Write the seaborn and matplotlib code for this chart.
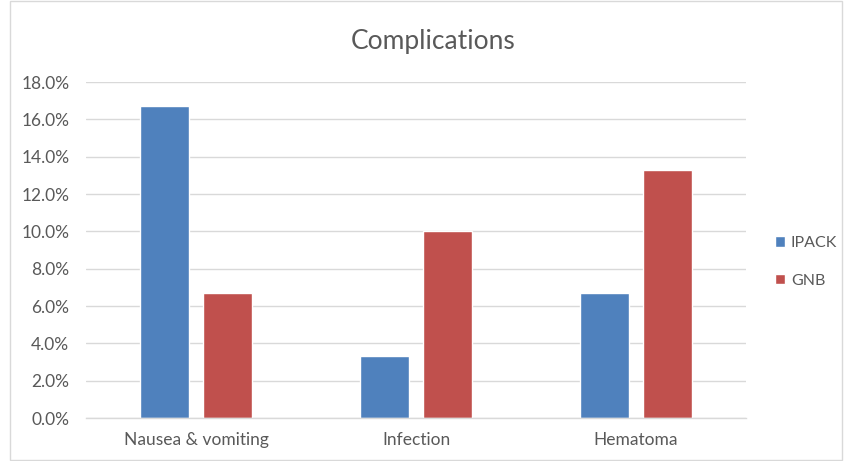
import matplotlib
matplotlib.use("Agg")
import matplotlib.pyplot as plt
from matplotlib.patches import Rectangle
from matplotlib.ticker import PercentFormatter
import seaborn as sns
import pandas as pd

categories = ["Nausea & vomiting", "Infection", "Hematoma"]
groups = ["IPACK", "GNB"]
ipack = [16.7, 3.3, 6.7]
gnb = [6.7, 10.0, 13.3]
colors = ["#4F81BD", "#C0504D"]

df = pd.DataFrame({
    "Complication": categories * 2,
    "Group": [groups[0]] * len(categories) + [groups[1]] * len(categories),
    "Rate": ipack + gnb,
})

sns.set_theme(style="white")
plt.rcParams["font.family"] = ["Lato", "DejaVu Sans"]

fig = plt.figure(figsize=(8.44, 4.61), dpi=100)
ax = fig.add_axes([86 / 844, 1 - 418 / 461, 660 / 844, 336 / 461])

sns.barplot(data=df, x="Complication", y="Rate", hue="Group",
            palette=colors, width=0.573, gap=0.222, ax=ax,
            saturation=1, legend=True)

ax.set_ylim(0, 18)
ax.set_xlim(-0.5, 2.5)
ax.set_yticks(range(0, 19, 2))
ax.yaxis.set_major_formatter(PercentFormatter(decimals=1))
ax.grid(axis="y", color="#D9D9D9", linewidth=1)
ax.set_axisbelow(True)
for s in ["top", "right", "left"]:
    ax.spines[s].set_visible(False)
ax.spines["bottom"].set_color("#D9D9D9")
ax.spines["bottom"].set_linewidth(1)
ax.tick_params(axis="both", length=0, colors="#595959", labelsize=12.5)
ax.tick_params(axis="y", pad=12)
ax.tick_params(axis="x", pad=10)
ax.set_xlabel("")
ax.set_ylabel("")

fig.text(433 / 844, 1 - 42 / 461, "Complications", ha="center", va="center",
         fontsize=19, color="#595959")

handles, labels = ax.get_legend_handles_labels()
fig.legend(handles, labels, loc="center left",
           bbox_to_anchor=(775 / 844, 1 - 262 / 461),
           frameon=False, fontsize=11.5, labelcolor="#595959",
           handlelength=0.65, handleheight=0.65, handletextpad=0.35,
           labelspacing=1.45, borderaxespad=0, borderpad=0)
ax.get_legend().remove()

fig.patches.append(Rectangle((10 / 844, 0.002), 833 / 844 - 0.001, 0.996,
                             transform=fig.transFigure, fill=False,
                             edgecolor="#D9D9D9", linewidth=1))

fig.savefig("out.png", dpi=100)
